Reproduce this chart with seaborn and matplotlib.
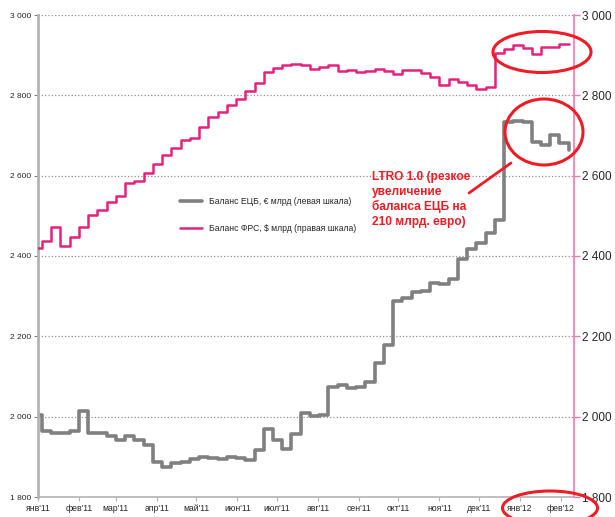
import pandas as pd
import seaborn as sns
import matplotlib.pyplot as plt
from matplotlib.patches import Ellipse
from matplotlib.ticker import FuncFormatter

sns.set_style('white')
plt.rcParams['font.family'] = ['Liberation Sans', 'DejaVu Sans']

# weekly balance sheet data, bn
weeks = pd.date_range('2010-12-28', periods=59, freq='7D')
ecb = [2004, 1964, 1959, 1959, 1965, 2014, 1959, 1959, 1953, 1942, 1953, 1942,
       1930, 1887, 1874, 1885, 1888, 1894, 1900, 1898, 1895, 1900, 1897, 1892,
       1917, 1970, 1942, 1920, 1957, 2009, 2002, 2004, 2074, 2079, 2071, 2074,
       2086, 2134, 2178, 2288, 2295, 2310, 2313, 2333, 2330, 2343, 2392, 2417,
       2433, 2457, 2490, 2733, 2735, 2733, 2684, 2676, 2701, 2681, 2664]
fed = [2420, 2437, 2472, 2426, 2447, 2472, 2502, 2514, 2535, 2549, 2581, 2586,
       2607, 2628, 2651, 2669, 2689, 2694, 2721, 2746, 2759, 2776, 2791, 2811,
       2831, 2858, 2868, 2875, 2878, 2876, 2866, 2871, 2875, 2861, 2863, 2858,
       2861, 2866, 2861, 2853, 2863, 2863, 2856, 2846, 2826, 2841, 2833, 2826,
       2816, 2821, 2905, 2915, 2925, 2918, 2903, 2920, 2920, 2928, 2928]

month_labels = ["янв'11", "фев'11", "мар'11", "апр'11", "май'11", "июн'11", "июл'11",
                "авг'11", "сен'11", "окт'11", "ноя'11", "дек'11", "янв'12", "фев'12"]
label_ecb = 'Баланс ЕЦБ, € млрд (левая шкала)'
label_fed = 'Баланс ФРС, $ млрд (правая шкала)'
note = 'LTRO 1.0 (резкое\nувеличение\nбаланса ЕЦБ на\n210 млрд. евро)'

grey = '#808080'
pink = '#e6217c'
red = '#ee1c25'

df = pd.DataFrame({'date': weeks, 'ecb': ecb, 'fed': fed})

fig = plt.figure(figsize=(6.15, 5.17), dpi=100)
ax = fig.add_axes([38 / 615, 1 - 497 / 517, 536 / 615, 482 / 517])
ax2 = ax.twinx()

sns.lineplot(data=df, x='date', y='ecb', ax=ax, color=grey, lw=2.6,
             drawstyle='steps-post', label=label_ecb, legend=False)
sns.lineplot(data=df, x='date', y='fed', ax=ax2, color=pink, lw=1.8,
             drawstyle='steps-post', label=label_fed, legend=False)

for a in (ax, ax2):
    a.set_ylim(1800, 3000)
    a.set_xlim(pd.Timestamp('2011-01-01'), pd.Timestamp('2012-02-11'))
    a.set(xlabel='', ylabel='')

fmt = FuncFormatter(lambda v, p: '{:,.0f}'.format(v).replace(',', ' '))
ax.set_yticks(range(1800, 3001, 200))
ax2.set_yticks(range(1800, 3001, 200))
ax.yaxis.set_major_formatter(fmt)
ax2.yaxis.set_major_formatter(fmt)

ax.grid(axis='y', ls=':', color='#909090', lw=0.9)
ax.grid(axis='x', visible=False)

months = pd.date_range('2011-01-01', periods=len(month_labels), freq='MS')
ax.set_xticks(months)
ax.set_xticklabels(month_labels)

ax.spines['top'].set_visible(False)
ax2.spines['top'].set_visible(False)
ax.spines['left'].set_color('#b4b4b4')
ax.spines['left'].set_linewidth(2)
ax.spines['bottom'].set_color('#b4b4b4')
ax.spines['bottom'].set_linewidth(1.2)
ax.spines['right'].set_visible(False)
ax2.spines['left'].set_visible(False)
ax2.spines['bottom'].set_visible(False)
ax2.spines['right'].set_color('#ec7ab2')
ax2.spines['right'].set_linewidth(1.2)

ax.tick_params(axis='y', labelsize=6, length=3, width=0.8, color='#808080', pad=2,
               left=True)
ax.tick_params(axis='x', labelsize=6.2, length=3, width=0.8, color='#b4b4b4', pad=2,
               bottom=True)
ax2.tick_params(axis='y', labelsize=8.5, length=4, width=1, color='#ec7ab2', pad=2,
                right=True)

h1, l1 = ax.get_legend_handles_labels()
h2, l2 = ax2.get_legend_handles_labels()
ax2.legend(h1 + h2, l1 + l2, loc='upper left', bbox_to_anchor=(172 / 615, 1 - 189 / 517),
           bbox_transform=fig.transFigure, frameon=False, fontsize=6.2,
           handlelength=2.6, labelspacing=2.1, handletextpad=0.8)

fig.text(372 / 615, 1 - 171 / 517, note, color=red, fontsize=8.6, fontweight='bold',
         va='top', ha='left', linespacing=1.28)
fig.add_artist(plt.Line2D([469 / 615, 511 / 615], [1 - 193 / 517, 1 - 163 / 517],
                          transform=fig.transFigure, color=red, lw=2))

for cx, cy, w, h in [(542, 52, 98, 41), (544, 132, 78, 66), (550, 508, 95, 34)]:
    fig.add_artist(Ellipse((cx / 615, 1 - cy / 517), w / 615, h / 517,
                           transform=fig.transFigure, fill=False, ec=red, lw=2.2))

fig.savefig('out.png', dpi=100)
